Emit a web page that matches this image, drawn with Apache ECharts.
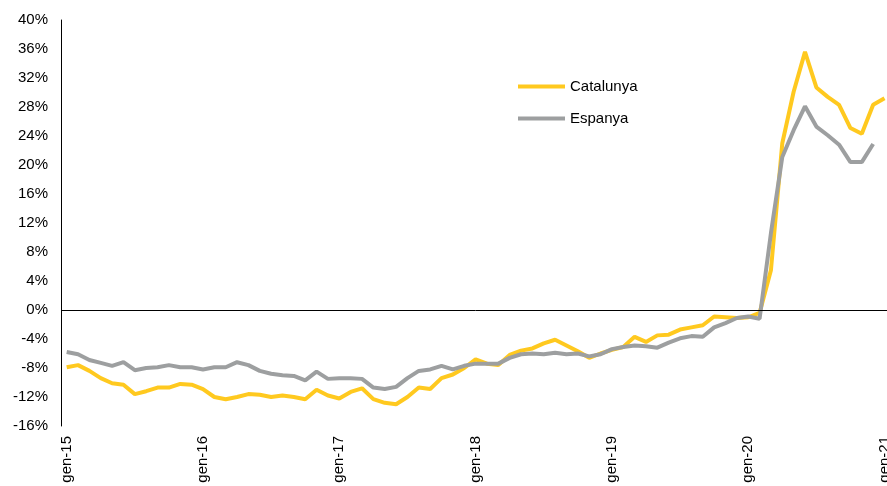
<!DOCTYPE html>
<html>
<head>
<meta charset="utf-8">
<script src="https://cdn.jsdelivr.net/npm/echarts@6/dist/echarts.min.js"></script>
<style>
  html, body { margin: 0; padding: 0; background: #fff; overflow: hidden; }
  /* a bit wider than the window: the original picture is cropped just after gen-21 */
  #chart { width: 892px; height: 486px; }
</style>
</head>
<body>
<div id="chart"></div>
<script>
// Catalan month abbreviations and years on the x axis (monthly, gen-15 .. gen-21)
const months = ['gen', 'febr', 'març', 'abr', 'maig', 'juny', 'jul', 'ag', 'set', 'oct', 'nov', 'des']
const years = ['15', '16', '17', '18', '19', '20', '21']

const categories = []
years.forEach(y => months.forEach(m => categories.push(m + '-' + y)))
categories.length = 73

// y-o-y change, %
const catalunya = [
  -7.9, -7.6, -8.4, -9.4, -10.1, -10.3, -11.6, -11.2, -10.7, -10.7, -10.2, -10.3,
  -10.9, -12.0, -12.3, -12.0, -11.6, -11.7, -12.0, -11.8, -12.0, -12.3, -11.0, -11.8,
  -12.2, -11.3, -10.8, -12.3, -12.8, -13.0, -12.0, -10.7, -10.9, -9.4, -8.9, -8.0,
  -6.8, -7.4, -7.6, -6.2, -5.6, -5.3, -4.6, -4.1, -4.9, -5.7, -6.6, -6.0,
  -5.5, -5.1, -3.7, -4.4, -3.5, -3.4, -2.7, -2.4, -2.1, -0.9, -1.0, -1.1,
  -1.0, -0.4, 5.5, 23.0, 30.1, 35.6, 30.7, 29.4, 28.3, 25.1, 24.3, 28.3,
  29.2
]
const espanya = [
  -5.8, -6.1, -6.9, -7.3, -7.7, -7.2, -8.3, -8.0, -7.9, -7.6, -7.9, -7.9,
  -8.2, -7.9, -7.9, -7.2, -7.6, -8.4, -8.8, -9.0, -9.1, -9.7, -8.5, -9.5,
  -9.4, -9.4, -9.5, -10.7, -10.9, -10.6, -9.4, -8.4, -8.2, -7.7, -8.2, -7.7,
  -7.4, -7.4, -7.4, -6.6, -6.1, -6.0, -6.1, -5.9, -6.1, -6.0, -6.4, -6.1,
  -5.4, -5.1, -4.9, -5.0, -5.2, -4.5, -3.9, -3.6, -3.7, -2.4, -1.8, -1.1,
  -0.9, -1.2, 10.6, 21.1, 24.8, 28.1, 25.3, 24.1, 22.8, 20.4, 20.4, 22.9
]

const chart = echarts.init(document.getElementById('chart'))

const font = '"Liberation Sans", Arial, sans-serif'

chart.setOption({
  backgroundColor: '#fff',
  animation: false,
  textStyle: { fontFamily: font },
  grid: { left: 61, right: 0, top: 20, bottom: 60 },
  legend: {
    orient: 'vertical',
    left: 513,
    top: 74,
    icon: 'rect',
    itemWidth: 47,
    itemHeight: 4,
    itemGap: 17,
    textStyle: { color: '#000', fontSize: 15, fontFamily: font },
    data: ['Catalunya', 'Espanya']
  },
  xAxis: {
    type: 'category',
    boundaryGap: true,
    data: categories,
    axisLine: { show: false, onZero: false },
    axisTick: { show: false },
    axisLabel: {
      interval: 11,
      rotate: 90,
      margin: 10,
      color: '#000',
      fontSize: 15,
      fontFamily: font
    }
  },
  yAxis: {
    type: 'value',
    min: -16,
    max: 40,
    interval: 4,
    axisLine: { show: true, lineStyle: { color: '#000', width: 1 } },
    axisTick: { show: false },
    splitLine: { show: false },
    axisLabel: {
      formatter: '{value}%',
      margin: 13,
      color: '#000',
      fontSize: 15,
      fontFamily: font
    }
  },
  series: [
    {
      name: 'Catalunya',
      type: 'line',
      data: catalunya,
      symbol: 'none',
      lineStyle: { width: 4, color: '#FFC91F' },
      itemStyle: { color: '#FFC91F' },
      markLine: {
        silent: true,
        symbol: 'none',
        label: { show: false },
        lineStyle: { color: '#000', width: 1, type: 'solid' },
        data: [{ yAxis: 0 }]
      },
      z: 2
    },
    {
      name: 'Espanya',
      type: 'line',
      data: espanya,
      symbol: 'none',
      lineStyle: { width: 4, color: '#9D9FA0' },
      itemStyle: { color: '#9D9FA0' },
      z: 3
    }
  ]
})
</script>
</body>
</html>
